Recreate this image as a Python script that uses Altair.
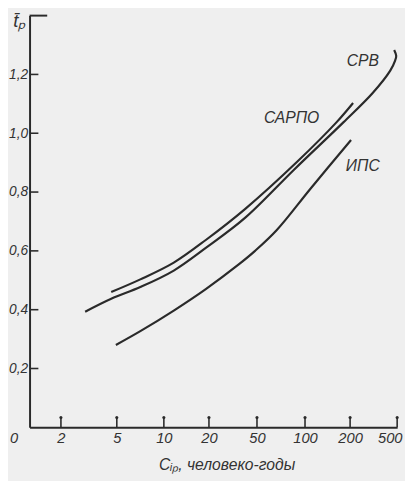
import altair as alt
import pandas as pd

# ---- data ----
x_ticks = [0, 2, 5, 10, 20, 50, 100, 200, 500]
y_ticks = [0.2, 0.4, 0.6, 0.8, 1.0, 1.2]

srv_c = [3.3, 4.7, 7.5, 12.2, 19.3, 42.7, 88.8, 185, 344, 456, 487, 494, 481]
srv_t = [0.393, 0.437, 0.477, 0.533, 0.61, 0.713, 0.877, 1.037, 1.137, 1.213, 1.247, 1.263, 1.283]

sarpo_c = [4.7, 7.5, 12.2, 19.3, 42.7, 91.8, 169.6, 219]
sarpo_t = [0.46, 0.503, 0.56, 0.637, 0.743, 0.903, 1.037, 1.103]

ips_c = [4.95, 7.5, 12.2, 19.3, 38.4, 48.8, 70.4, 113, 206]
ips_t = [0.28, 0.327, 0.397, 0.47, 0.553, 0.60, 0.67, 0.813, 0.977]

label_text = ["СРВ", "САРПО", "ИПС"]
label_c = [281, 86, 281]
label_t = [1.247, 1.05, 0.887]

# ---- styling ----
FONT = "Liberation Sans, Arial, sans-serif"
INK = "#2a2a2a"
W, H = 375, 420
x_range = [0, 32, 89, 137, 183, 232, 281, 327, 375]  # uneven printed spacing of the axis

rows = []
for name, cs, ts in [("СРВ", srv_c, srv_t), ("САРПО", sarpo_c, sarpo_t), ("ИПС", ips_c, ips_t)]:
    for i, (c, t) in enumerate(zip(cs, ts)):
        rows.append({"series": name, "i": i, "c": c, "t": t})
df = pd.DataFrame(rows)
labels = pd.DataFrame({"name": label_text, "c": label_c, "t": label_t})
yt = pd.DataFrame({"t": y_ticks})
ytop = pd.DataFrame({"t": [1.4]})
xt = pd.DataFrame({"c": x_ticks[1:]})

x_scale = alt.Scale(domain=x_ticks, range=x_range, nice=False, zero=False)
y_scale = alt.Scale(domain=[0, 1.4], nice=False, zero=False)

x_axis = alt.Axis(
    values=x_ticks, ticks=False, grid=False,
    domainColor=INK, domainWidth=2,
    labelFont=FONT, labelFontSize=15, labelFontStyle="italic", labelColor="#333",
    labelPadding=3, labelFlush=False, labelOverlap=False,
    labelAlign={"condition": [
        {"test": "datum.value === 0", "value": "right"},
        {"test": "datum.value === 500", "value": "right"}], "value": "center"},
    labelOffset={"condition": [
        {"test": "datum.value === 0", "value": -12},
        {"test": "datum.value === 500", "value": 5}], "value": 0},
    title="Cᵢₚ, человеко-годы", titleFont=FONT, titleFontSize=16, titleFontStyle="italic",
    titleFontWeight="normal", titleColor="#333", titleX=201, titleY=38,
    titleAlign="center", titleBaseline="middle",
)
y_axis = alt.Axis(
    values=y_ticks, ticks=False, grid=False,
    domainColor=INK, domainWidth=2,
    labelExpr="replace(format(datum.value, '.1f'), '.', ',')",
    labelFont=FONT, labelFontSize=14, labelFontStyle="italic", labelColor="#333",
    labelPadding=2,
    title="t̄ₚ", titleFont=FONT, titleFontSize=19, titleFontStyle="italic",
    titleFontWeight="normal", titleColor="#333", titleAngle=0,
    titleX=-11, titleY=5, titleAlign="center", titleBaseline="middle",
)

x_enc = alt.X("c:Q", scale=x_scale, axis=x_axis)
y_enc = alt.Y("t:Q", scale=y_scale, axis=y_axis)

lines = alt.Chart(df).mark_line(
    color=INK, strokeWidth=2.2, interpolate="catmull-rom"
).encode(x=x_enc, y=y_enc, detail="series:N", order="i:Q")

texts = alt.Chart(labels).mark_text(
    font=FONT, fontSize=16, fontStyle="italic", color="#333", align="center", baseline="middle"
).encode(x=x_enc, y=y_enc, text="name:N")

ytick_rules = alt.Chart(yt).mark_rule(color=INK, strokeWidth=1.6).encode(
    y=y_enc, x=alt.value(0), x2=alt.value(9)
)
ytop_rule = alt.Chart(ytop).mark_rule(color=INK, strokeWidth=2).encode(
    y=y_enc, x=alt.value(0), x2=alt.value(18)
)
xtick_rules = alt.Chart(xt).mark_rule(color=INK, strokeWidth=1.6).encode(
    x=x_enc, y=alt.value(H), y2=alt.value(H - 10)
)
xtick_heads = alt.Chart(xt).mark_point(color=INK, filled=True, size=10, opacity=1).encode(
    x=x_enc, y=alt.value(H - 10)
)

chart = alt.layer(
    lines, texts, ytick_rules, ytop_rule, xtick_rules, xtick_heads
).properties(
    width=W, height=H,
    autosize=alt.AutoSizeParams(type="none"),
    padding={"left": 22, "top": 3, "right": 8, "bottom": 50},
    background="#efefef",
).configure_view(strokeWidth=0)

chart.save("out.html", embed_options={"renderer": "svg", "actions": False})
